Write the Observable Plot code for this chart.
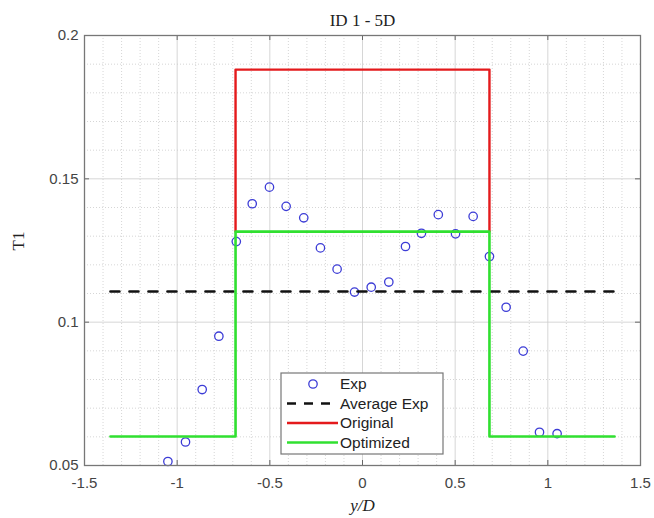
<!DOCTYPE html>
<html><head><meta charset="utf-8">
<script src="https://cdn.jsdelivr.net/npm/d3@7"></script>
<script src="https://cdn.jsdelivr.net/npm/@observablehq/plot@0.6"></script>
<style>body{margin:0;background:#fff} #chart{position:relative;width:654px;height:518px}</style>
</head><body><div id="chart"></div>
<script>
// ---- data ----
const expX = [-1.05,-0.955,-0.865,-0.775,-0.681,-0.595,-0.502,-0.412,-0.317,-0.227,-0.137,-0.043,0.047,0.142,0.232,0.318,0.409,0.502,0.597,0.685,0.775,0.867,0.955,1.05];
const expY = [0.0514,0.0582,0.0765,0.0951,0.1281,0.1413,0.1471,0.1404,0.1364,0.1259,0.1185,0.1105,0.1122,0.1140,0.1264,0.1310,0.1375,0.1308,0.1369,0.1229,0.1052,0.0899,0.0616,0.0611];
const avgX = [-1.36, 1.36];
const avgY = [0.1107, 0.1107];
const origX = [-0.685, -0.685, 0.685, 0.685];
const origY = [0.1316, 0.1881, 0.1881, 0.1316];
const optX = [-1.36, -0.685, -0.685, 0.685, 0.685, 1.36];
const optY = [0.0601, 0.0601, 0.1316, 0.1316, 0.0601, 0.0601];
const xTicks = [-1.5, -1, -0.5, 0, 0.5, 1, 1.5];
const xTickLabels = ["-1.5", "-1", "-0.5", "0", "0.5", "1", "1.5"];
const yTicks = [0.05, 0.1, 0.15, 0.2];
const yTickLabels = ["0.05", "0.1", "0.15", "0.2"];
const xMinor = [-1.4,-1.3,-1.2,-1.1,-0.9,-0.8,-0.7,-0.6,-0.4,-0.3,-0.2,-0.1,0.1,0.2,0.3,0.4,0.6,0.7,0.8,0.9,1.1,1.2,1.3,1.4];
const yMinor = [0.06,0.07,0.08,0.09,0.11,0.12,0.13,0.14,0.16,0.17,0.18,0.19];
const legendLabels = ["Exp", "Average Exp", "Original", "Optimized"];
const titleText = "ID 1 - 5D";
const xLabel = "y/D";
const yLabel = "T1";

// ---- build ----
const toPts = (xs, ys) => xs.map((x, i) => ({x, y: ys[i]}));
const exp = toPts(expX, expY);
const avg = toPts(avgX, avgY);
const orig = toPts(origX, origY);
const opt = toPts(optX, optY);

const W = 654, H = 518, mL = 84, mR = 14, mT = 35, mB = 53;
const frameH = H - mT - mB, frameW = W - mL - mR;
const BLUE = "#3c3cd6", RED = "#e41a1c", GREEN = "#30e030";
const SERIF = "'Liberation Serif', 'Times New Roman', serif";

const plot = Plot.plot({
  width: W, height: H,
  marginLeft: mL, marginRight: mR, marginTop: mT, marginBottom: mB,
  x: {domain: [-1.5, 1.5]},
  y: {domain: [0.05, 0.2]},
  style: {fontFamily: "'Liberation Sans', Arial, sans-serif", fontSize: "15px", color: "#333", background: "#fff", overflow: "visible"},
  marks: [
    Plot.gridX(xMinor, {stroke: "#bbb", strokeOpacity: 0.6, strokeDasharray: "1,2"}),
    Plot.gridY(yMinor, {stroke: "#bbb", strokeOpacity: 0.6, strokeDasharray: "1,2"}),
    Plot.gridX(xTicks, {stroke: "#ccc", strokeOpacity: 0.8}),
    Plot.gridY(yTicks, {stroke: "#ccc", strokeOpacity: 0.8}),
    Plot.axisX(xTicks, {anchor: "bottom", tickSize: 0, tickPadding: 12, tickFormat: d => xTickLabels[xTicks.indexOf(d)], label: null, fill: "#444"}),
    Plot.axisY(yTicks, {anchor: "left", tickSize: 0, tickPadding: 6, tickFormat: d => yTickLabels[yTicks.indexOf(d)], label: null, fill: "#444"}),
    Plot.tickX(xTicks, {x: d => d, insetTop: frameH - 5, stroke: "#666"}),
    Plot.tickX(xTicks, {x: d => d, insetBottom: frameH - 5, stroke: "#666"}),
    Plot.tickY(yTicks, {y: d => d, insetRight: frameW - 5, stroke: "#666"}),
    Plot.tickY(yTicks, {y: d => d, insetLeft: frameW - 5, stroke: "#666"}),
    Plot.dot(exp, {x: "x", y: "y", r: 4.2, stroke: BLUE, strokeWidth: 1.3, fill: "none"}),
    Plot.line(avg, {x: "x", y: "y", stroke: "#111", strokeWidth: 2.6, strokeDasharray: "9,10"}),
    Plot.line(orig, {x: "x", y: "y", stroke: RED, strokeWidth: 2.4}),
    Plot.line(opt, {x: "x", y: "y", stroke: GREEN, strokeWidth: 2.6}),
    Plot.frame({stroke: "#777", strokeWidth: 1.3}),
    Plot.text([titleText], {frameAnchor: "top", lineAnchor: "middle", dy: -15, text: d => d, fontFamily: SERIF, fontSize: 17, fill: "#222"}),
    Plot.text([xLabel], {frameAnchor: "bottom", lineAnchor: "middle", dy: 40, text: d => d, fontFamily: SERIF, fontSize: 17, fontStyle: "italic", fill: "#222"}),
    Plot.text([yLabel], {frameAnchor: "left", lineAnchor: "middle", dx: -66, rotate: -90, text: d => d, fontFamily: SERIF, fontSize: 17, fill: "#222"})
  ]
});

// legend overlay
const svg = d3.select(plot);
const lg = svg.append("g").attr("font-family", "'Liberation Sans', Arial, sans-serif").attr("font-size", 15.5).attr("fill", "#222").attr("text-anchor", "start");
const bx = 281, by = 373, bw = 162, bh = 81;
lg.append("rect").attr("x", bx).attr("y", by).attr("width", bw).attr("height", bh).attr("fill", "#fff").attr("stroke", "#777").attr("stroke-width", 1.2);
const rowY = [384, 403.5, 423, 442.5];
const styles = [
  {type: "dot"},
  {type: "line", stroke: "#111", dash: "9,8", w: 2.6},
  {type: "line", stroke: RED, w: 2.4},
  {type: "line", stroke: GREEN, w: 2.6}
];
legendLabels.forEach((lab, i) => {
  const y = rowY[i], s = styles[i];
  if (s.type === "dot") {
    lg.append("circle").attr("cx", 313).attr("cy", y).attr("r", 4.2).attr("fill", "none").attr("stroke", BLUE).attr("stroke-width", 1.3);
  } else {
    lg.append("line").attr("x1", 287).attr("x2", 338).attr("y1", y).attr("y2", y).attr("stroke", s.stroke).attr("stroke-width", s.w).attr("stroke-dasharray", s.dash || null);
  }
  lg.append("text").attr("x", 340).attr("y", y).attr("dy", "0.35em").attr("text-anchor", "start").text(lab);
});

document.getElementById("chart").appendChild(plot);
</script>
</body></html>
